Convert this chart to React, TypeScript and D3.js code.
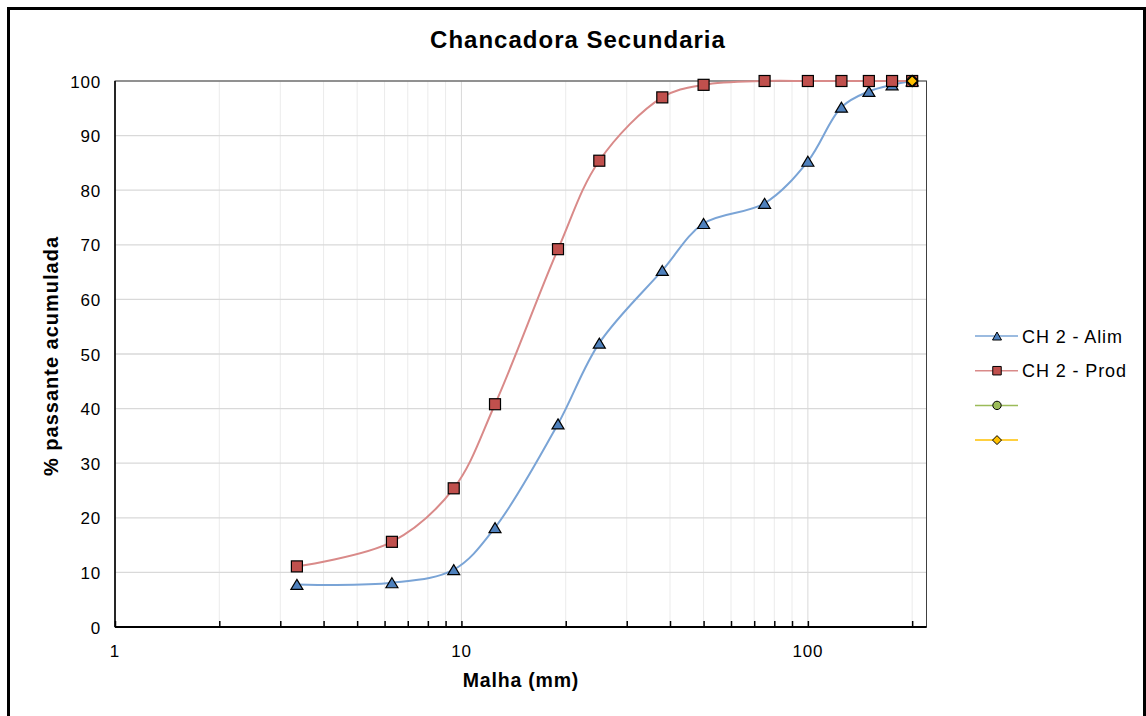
import React, { useEffect, useRef } from "react";
import * as d3 from "d3";

// malha (mm)
const sizes = [3.35, 6.3, 9.5, 12.5, 19, 25, 38, 50, 75, 100, 125, 150, 175, 200];
const alim = [7.8, 8.1, 10.5, 18.2, 37.2, 52.0, 65.3, 73.9, 77.6, 85.3, 95.2, 98.1, 99.3, 100];
const prod = [11.1, 15.6, 25.4, 40.8, 69.2, 85.4, 97.0, 99.3, 100, 100, 100, 100, 100, 100];
const extraSizes = [200];
const extraA = [100];
const extraB = [100];
const yTicks = [0, 10, 20, 30, 40, 50, 60, 70, 80, 90, 100];
const xMajor = [1, 10, 100];
const xMinor = [2, 3, 4, 5, 6, 7, 8, 9, 20, 30, 40, 50, 60, 70, 80, 90, 200];

const triPath = (w: number, h: number) => {
  const p = d3.path();
  p.moveTo(0, -h / 2);
  p.lineTo(w / 2, h / 2);
  p.lineTo(-w / 2, h / 2);
  p.closePath();
  return p.toString();
};
const diamondPath = (r: number) => {
  const p = d3.path();
  p.moveTo(0, -r);
  p.lineTo(r, 0);
  p.lineTo(0, r);
  p.lineTo(-r, 0);
  p.closePath();
  return p.toString();
};

export default function App() {
  const ref = useRef<SVGSVGElement>(null);

  useEffect(() => {
    document.body.style.margin = "0";
    const width = 1146;
    const height = 716;
    const plot = { left: 115, right: 926.5, top: 81, bottom: 627 };
    const font = "'Liberation Sans', Arial, sans-serif";

    const svg = d3.select(ref.current);
    svg.selectAll("*").remove();
    svg.attr("width", width).attr("height", height);

    svg.append("rect").attr("width", width).attr("height", height).attr("fill", "#fff");
    svg.append("rect")
      .attr("x", 8.5).attr("y", 8.5).attr("width", 1136).attr("height", 730)
      .attr("fill", "none").attr("stroke", "#000").attr("stroke-width", 3);

    const x = d3.scaleLog().domain([1, 220]).range([plot.left, plot.right]);
    const y = d3.scaleLinear().domain([0, 100]).range([plot.bottom, plot.top]);

    // grid
    const grid = svg.append("g");
    grid.selectAll(".vminor").data(xMinor).join("line")
      .attr("x1", d => x(d)).attr("x2", d => x(d))
      .attr("y1", plot.top).attr("y2", plot.bottom)
      .attr("stroke", "#ebebeb").attr("stroke-width", 1);
    grid.selectAll(".vmajor").data(xMajor).join("line")
      .attr("x1", d => x(d)).attr("x2", d => x(d))
      .attr("y1", plot.top).attr("y2", plot.bottom)
      .attr("stroke", "#d9d9d9").attr("stroke-width", 1);
    grid.selectAll(".h").data(yTicks).join("line")
      .attr("x1", plot.left).attr("x2", plot.right)
      .attr("y1", d => y(d)).attr("y2", d => y(d))
      .attr("stroke", "#d9d9d9").attr("stroke-width", 1.3);

    // plot border
    svg.append("rect")
      .attr("x", plot.left).attr("y", plot.top)
      .attr("width", plot.right - plot.left).attr("height", plot.bottom - plot.top)
      .attr("fill", "none").attr("stroke", "#404040").attr("stroke-width", 1);
    svg.append("line")
      .attr("x1", plot.left).attr("x2", plot.right).attr("y1", plot.bottom).attr("y2", plot.bottom)
      .attr("stroke", "#000").attr("stroke-width", 2);
    svg.append("line")
      .attr("x1", plot.left).attr("x2", plot.left).attr("y1", plot.top).attr("y2", plot.bottom)
      .attr("stroke", "#000").attr("stroke-width", 1.5);

    // x axis ticks
    svg.append("g")
      .attr("transform", `translate(0,${plot.bottom})`)
      .call(d3.axisBottom(x).tickValues([...xMajor, ...xMinor]).tickSize(-6).tickFormat(() => ""))
      .call(g => g.select(".domain").remove())
      .call(g => g.selectAll(".tick line").attr("stroke", "#000").attr("stroke-width", 1.5));

    svg.append("g").selectAll("text").data(xMajor).join("text")
      .attr("x", d => x(d)).attr("y", plot.bottom + 30)
      .attr("text-anchor", "middle")
      .attr("font-family", font).attr("font-size", 17).attr("letter-spacing", 0.8).attr("fill", "#000")
      .text(d => d);

    svg.append("g").selectAll("text").data(yTicks).join("text")
      .attr("x", plot.left - 14).attr("y", d => y(d) + 6.5)
      .attr("text-anchor", "end")
      .attr("font-family", font).attr("font-size", 17).attr("letter-spacing", 0.8).attr("fill", "#000")
      .text(d => d);

    // series
    const line = d3.line<[number, number]>()
      .x(d => x(d[0])).y(d => y(d[1]))
      .curve(d3.curveCatmullRom.alpha(0.5));

    const alimPts = sizes.map((s, i) => [s, alim[i]] as [number, number]);
    const prodPts = sizes.map((s, i) => [s, prod[i]] as [number, number]);

    svg.append("path").attr("d", line(alimPts))
      .attr("fill", "none").attr("stroke", "#7aa4d6").attr("stroke-width", 2);
    svg.append("g").selectAll("path").data(alimPts).join("path")
      .attr("d", triPath(12, 10))
      .attr("transform", d => `translate(${x(d[0])},${y(d[1])})`)
      .attr("fill", "#4f81bd").attr("stroke", "#000").attr("stroke-width", 1.2);

    svg.append("path").attr("d", line(prodPts))
      .attr("fill", "none").attr("stroke", "#d98a89").attr("stroke-width", 2);
    svg.append("g").selectAll("rect").data(prodPts).join("rect")
      .attr("x", d => x(d[0]) - 5.5).attr("y", d => y(d[1]) - 5.5)
      .attr("width", 11).attr("height", 11)
      .attr("fill", "#c0504d").attr("stroke", "#000").attr("stroke-width", 1.2);

    svg.append("g").selectAll("circle").data(extraSizes.map((s, i) => [s, extraA[i]])).join("circle")
      .attr("cx", d => x(d[0])).attr("cy", d => y(d[1])).attr("r", 5)
      .attr("fill", "#9bbb59").attr("stroke", "#000").attr("stroke-width", 1);
    svg.append("g").selectAll("path").data(extraSizes.map((s, i) => [s, extraB[i]])).join("path")
      .attr("d", diamondPath(5.5))
      .attr("transform", d => `translate(${x(d[0])},${y(d[1])})`)
      .attr("fill", "#ffc000").attr("stroke", "#000").attr("stroke-width", 1.5);

    // titles
    svg.append("text")
      .attr("x", 578).attr("y", 48).attr("text-anchor", "middle")
      .attr("font-family", font).attr("font-size", 24).attr("letter-spacing", 1).attr("font-weight", "bold")
      .text("Chancadora Secundaria");
    svg.append("text")
      .attr("x", 521).attr("y", 687).attr("text-anchor", "middle")
      .attr("font-family", font).attr("font-size", 19.5).attr("letter-spacing", 0.8).attr("font-weight", "bold")
      .text("Malha (mm)");
    svg.append("text")
      .attr("transform", `translate(58,356) rotate(-90)`)
      .attr("text-anchor", "middle")
      .attr("font-family", font).attr("font-size", 20).attr("letter-spacing", 1).attr("font-weight", "bold")
      .text("% passante acumulada");

    // legend
    const legend = [
      { name: "CH 2 - Alim", line: "#7aa4d6", fill: "#4f81bd", sym: triPath(9, 8) },
      { name: "CH 2 - Prod", line: "#d98a89", fill: "#c0504d", sym: d3.symbol(d3.symbolSquare, 72)() },
      { name: "", line: "#9bbb59", fill: "#9bbb59", sym: d3.symbol(d3.symbolCircle, 55)() },
      { name: "", line: "#ffc000", fill: "#ffc000", sym: diamondPath(4.5) },
    ];
    const lg = svg.append("g").selectAll("g").data(legend).join("g")
      .attr("transform", (d, i) => `translate(975,${336 + i * 34.7})`);
    lg.append("line").attr("x1", 0).attr("x2", 43)
      .attr("stroke", d => d.line).attr("stroke-width", 1.5);
    lg.append("path").attr("d", d => d.sym)
      .attr("transform", "translate(22,0)")
      .attr("fill", d => d.fill).attr("stroke", "#000").attr("stroke-width", 1);
    lg.append("text").attr("x", 47).attr("y", 6.5)
      .attr("font-family", font).attr("font-size", 18).attr("letter-spacing", 0.9).attr("fill", "#000")
      .text(d => d.name);
  }, []);

  return <svg ref={ref} style={{ display: "block" }} />;
}
